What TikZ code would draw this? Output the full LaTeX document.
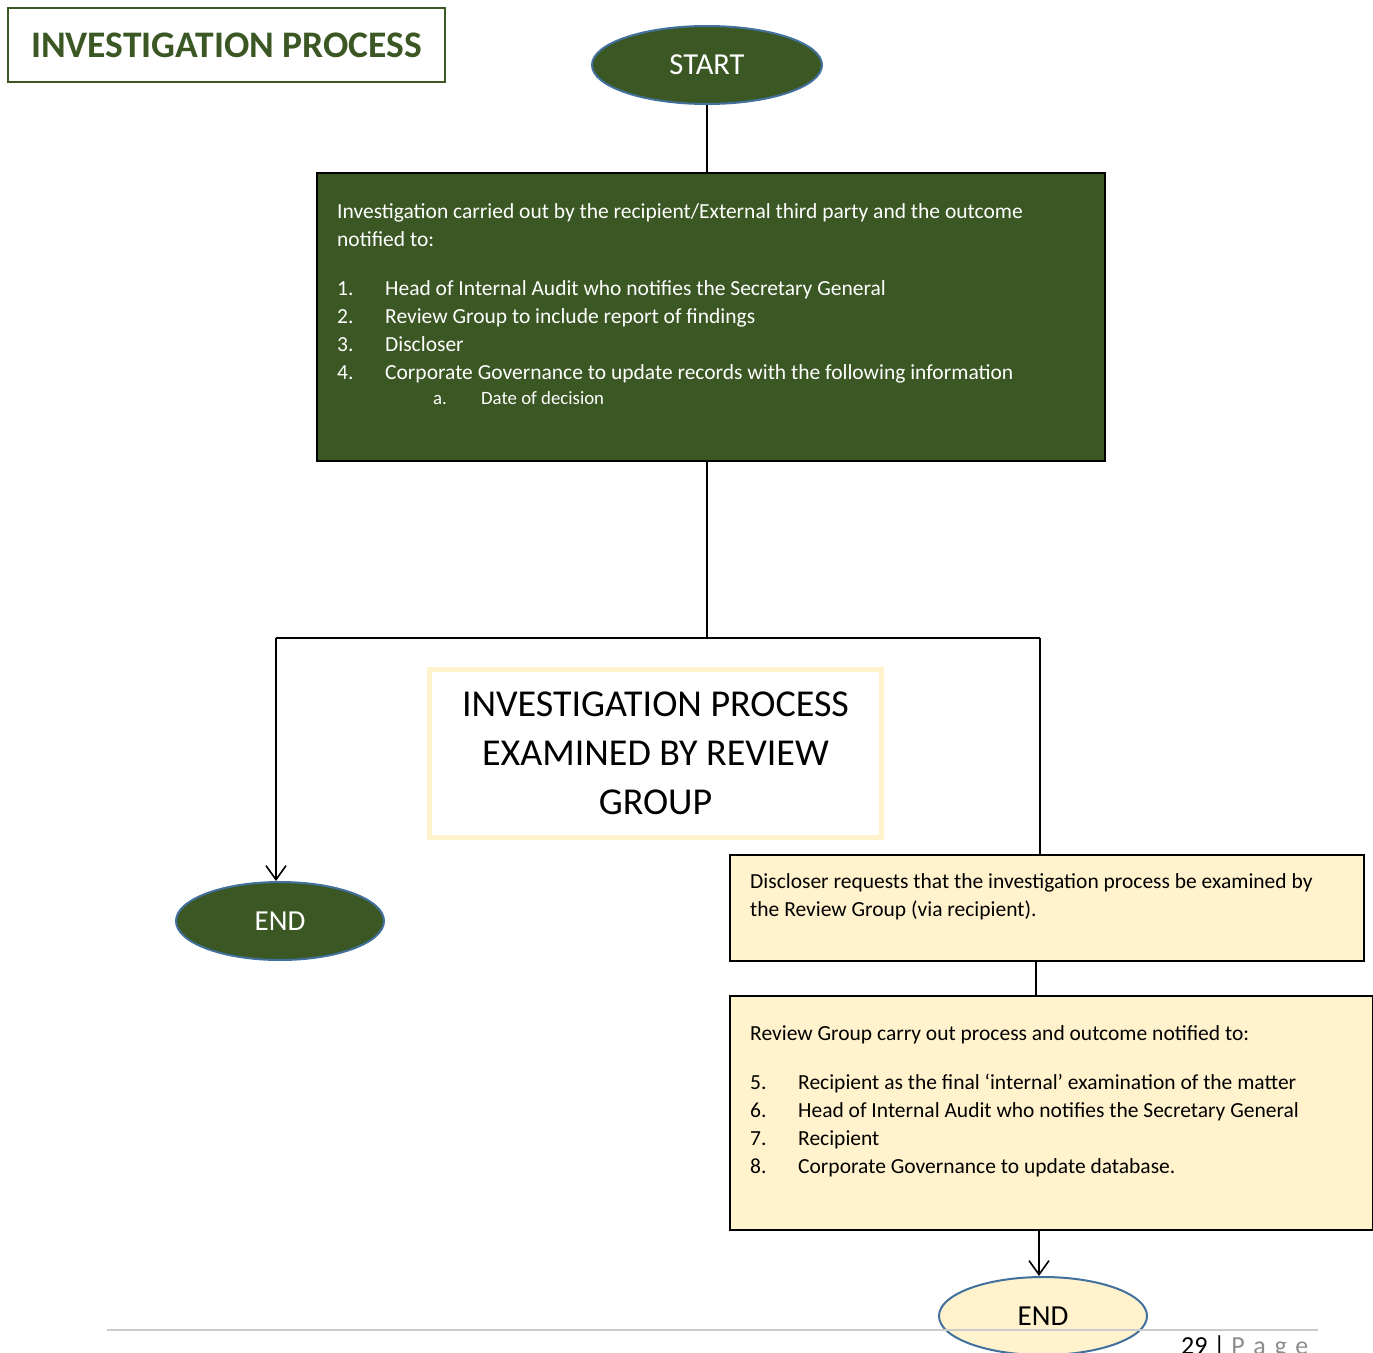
\documentclass[tikz,border=0pt]{standalone}
\usepackage{fontspec}
\setmainfont{Carlito}
\usetikzlibrary{shapes.geometric, arrows.meta, positioning, calc}
\definecolor{invGreen}{RGB}{59,87,36}
\definecolor{invBlue}{RGB}{65,113,156}
\definecolor{invYellow}{RGB}{255,242,204}
\definecolor{invGrey}{RGB}{140,140,140}

\begin{document}
\begin{tikzpicture}[x=1pt, y=-1pt]
    \tikzstyle{oval} = [ellipse, minimum width=208pt, minimum height=78pt, inner sep=0pt, draw=invBlue, line width=2pt, font=\fontsize{29}{32}\selectfont]
    \tikzstyle{panel} = [rectangle, draw=black, line width=2pt, anchor=north west, inner sep=0pt]
    \tikzstyle{body} = [anchor=north west, align=left, inner sep=0pt, font=\fontsize{21.5}{28}\selectfont]
    \tikzstyle{link} = [line width=1.6pt]
    \tikzstyle{arrow} = [link, -{Straight Barb[length=14pt, width=20pt]}]

    \useasboundingbox (0,0) rectangle (1373,1352);

    \node[draw=invGreen, line width=2pt, minimum width=437pt, minimum height=74pt, anchor=north west, text=invGreen, font=\fontsize{37.5}{40}\selectfont\bfseries] (title) at (7,7) {INVESTIGATION PROCESS};

    \node[oval, fill=invGreen, text=white, minimum width=230pt, font=\fontsize{30.5}{32}\selectfont] (start) at (707,65) {START};

    \node[panel, fill=invGreen, minimum width=788pt, minimum height=288pt] (outcome) at (316,172) {};
    \node[body, text=white] (outcometext) at (337,203) {Investigation carried out by the recipient/External third party and the outcome\\
        notified to:\\[21pt]
        \makebox[48pt][l]{1.}Head of Internal Audit who notifies the Secretary General\\
        \makebox[48pt][l]{2.}Review Group to include report of findings\\
        \makebox[48pt][l]{3.}Discloser\\
        \makebox[48pt][l]{4.}Corporate Governance to update records with the following information\\[-3pt]
        {\fontsize{18.8}{20}\selectfont\hspace*{96pt}\makebox[48pt][l]{a.}Date of decision}};

    \node[draw=invYellow, line width=5pt, minimum width=452pt, minimum height=168pt, align=center, font=\fontsize{38}{49}\selectfont] (examined) at (655.5,753.5) {INVESTIGATION PROCESS\\EXAMINED BY REVIEW\\GROUP};

    \node[oval, fill=invGreen, text=white] (endL) at (280,921) {END};

    \node[panel, fill=invYellow, minimum width=634pt, minimum height=106pt] (request) at (729,854) {};
    \node[body] (requesttext) at (750,873) {Discloser requests that the investigation process be examined by\\
        the Review Group (via recipient).};

    \node[panel, fill=invYellow, minimum width=643pt, minimum height=234pt] (carryout) at (729,995) {};
    \node[body] (carryouttext) at (750,1025) {Review Group carry out process and outcome notified to:\\[21pt]
        \makebox[48pt][l]{5.}Recipient as the final `internal' examination of the matter\\
        \makebox[48pt][l]{6.}Head of Internal Audit who notifies the Secretary General\\
        \makebox[48pt][l]{7.}Recipient\\
        \makebox[48pt][l]{8.}Corporate Governance to update database.};

    \node[oval, fill=invYellow] (endR) at (1043,1316) {END};

    \coordinate (split) at (707,638);
    \coordinate (leftturn) at (276,638);
    \coordinate (rightturn) at (1040,638);

    \draw[link] (start.south) -- (start.south |- outcome.north);
    \draw[link] (start.south |- outcome.south) -- (split);
    \draw[link] (leftturn) -- (rightturn);
    \draw[arrow] (leftturn) -- (leftturn |- endL.north);
    \draw[link] (rightturn) -- (rightturn |- request.north);
    \draw[link] ([xshift=-11pt]request.south) -- ([xshift=-11pt]request.south |- carryout.north);
    \draw[arrow] ([xshift=-12.5pt]carryout.south) -- ([xshift=-12.5pt]carryout.south |- endR.north);

    \draw[invGrey!45, line width=1.5pt] (107,1330) -- (1318,1330);
    \node[anchor=north west, inner sep=0pt, font=\fontsize{26}{28}\selectfont] (pagenum) at (1181,1335) {29 | \textcolor{invGrey}{P\,\,a\,\,g\,\,e}};
\end{tikzpicture}
\end{document}
